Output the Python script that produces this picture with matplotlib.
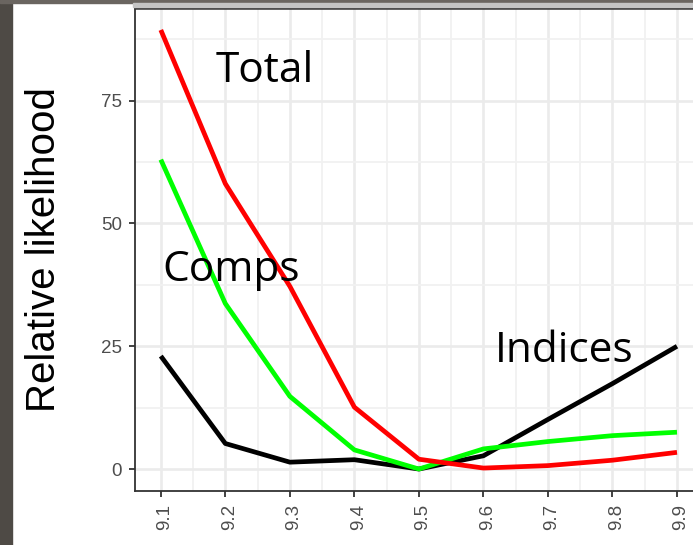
import matplotlib.pyplot as plt
import matplotlib.transforms as mtransforms
from matplotlib.patches import Rectangle
from matplotlib.ticker import MultipleLocator

# relative likelihood profiles over the parameter grid
param = [9.1, 9.2, 9.3, 9.4, 9.5, 9.6, 9.7, 9.8, 9.9]
total = [89.4, 58.1, 37.2, 12.6, 2.0, 0.2, 0.7, 1.8, 3.4]
comps = [63.0, 33.7, 14.8, 3.9, 0.0, 4.1, 5.6, 6.8, 7.5]
indices = [23.0, 5.2, 1.4, 1.9, 0.0, 2.7, 10.1, 17.4, 25.0]

fig = plt.figure(figsize=(6.93, 5.45), dpi=100)
W, H = 693, 545

# dark frame bits around the panel
fig.patches.append(Rectangle((0, 0), 12 / W, 1, transform=fig.transFigure,
                             color="#4e4a45", zorder=0))
fig.patches.append(Rectangle((0, 1 - 3 / H), 1, 3 / H, transform=fig.transFigure,
                             color="#6a6560", zorder=0))
fig.patches.append(Rectangle((133 / W, 1 - 7 / H), 1, 4 / H, transform=fig.transFigure,
                             color="#c4c4c4", zorder=0))

ax = fig.add_axes([135 / W, 54 / H, 567.8 / W, 483 / H])

ax.plot(param, indices, color="black", lw=3.4, solid_capstyle="butt", zorder=3)
ax.plot(param, comps, color="#00ff00", lw=3.4, solid_capstyle="butt", zorder=3)
ax.plot(param, total, color="#ff0000", lw=3.4, solid_capstyle="butt", zorder=3)

ax.set_xlim(9.06, 9.94)
ax.set_ylim(-4.47, 93.87)
ax.set_xticks(param)
ax.set_xticklabels([f"{p:.1f}" for p in param], rotation=90)
ax.set_yticks([0, 25, 50, 75])
ax.xaxis.set_minor_locator(MultipleLocator(0.05))
ax.yaxis.set_minor_locator(MultipleLocator(12.5))

ax.grid(which="major", color="#ebebeb", lw=1.9)
ax.grid(which="minor", color="#f1f1f1", lw=1.3)
ax.set_axisbelow(True)

ax.tick_params(which="major", length=4.5, width=1.3, color="#333333",
               labelsize=13.5, labelcolor="#4d4d4d", pad=5)
ax.tick_params(which="minor", length=0)
for lab in ax.get_xticklabels():
    lab.set_fontfamily("Liberation Sans")
    lab.set_transform(lab.get_transform() +
                      mtransforms.ScaledTranslation(4 / 100, 0, fig.dpi_scale_trans))
for lab in ax.get_yticklabels():
    lab.set_fontfamily("Liberation Sans")

for side in ["left", "bottom", "top"]:
    ax.spines[side].set_color("#333333")
    ax.spines[side].set_linewidth(1.3)
ax.spines["top"].set_linewidth(1.8)
ax.spines["right"].set_visible(False)

ax.set_ylabel("Relative likelihood", fontsize=29, family="Liberation Sans",
              va="center")
ax.yaxis.set_label_coords(-0.160, 0.5)

for txt, x, y in [("Total", 9.185, 78.9), ("Comps", 9.103, 38.2), ("Indices", 9.618, 21.7)]:
    ax.text(x, y, txt, fontsize=30.5, family="Open Sans", color="black",
            ha="left", va="baseline", zorder=4)

fig.savefig("out.png", dpi=100)
